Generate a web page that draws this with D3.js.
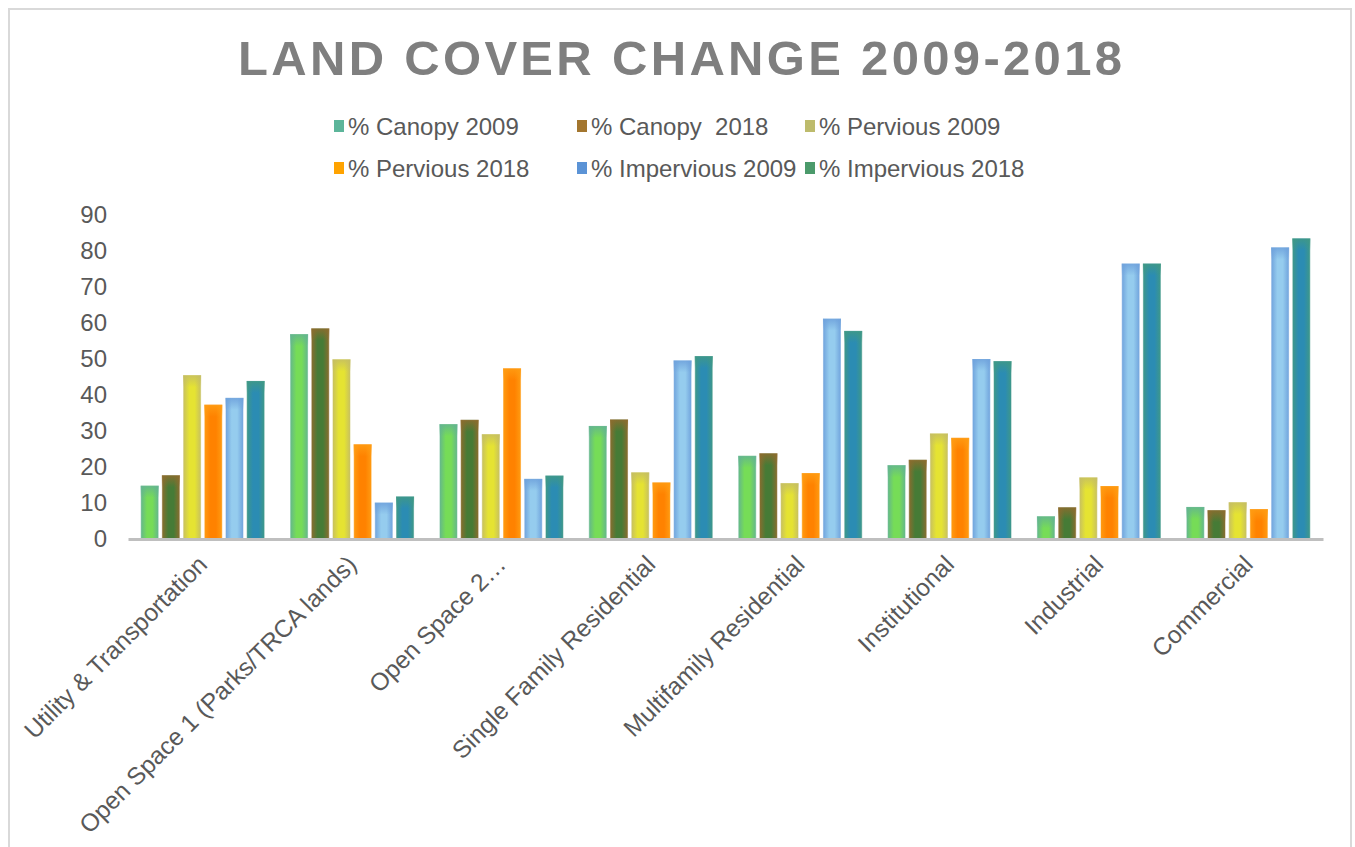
<!DOCTYPE html>
<html>

<head>
    <title>Land Cover Change</title>
    <script src="https://cdn.jsdelivr.net/npm/d3@7"></script>
    <style>
        body { margin: 0; background: #fff; }
        text { font-family: Arial, "Liberation Sans", sans-serif; }
    </style>
</head>

<body>
    <svg width="1355" height="847" id="mainsvg"></svg>
    <script>
        // data
        const categories = ['Utility & Transportation', 'Open Space 1 (Parks/TRCA lands)', 'Open Space 2…',
            'Single Family Residential', 'Multifamily Residential', 'Institutional', 'Industrial', 'Commercial'];
        const seriesNames = ['% Canopy 2009', '% Canopy  2018', '% Pervious 2009',
            '% Pervious 2018', '% Impervious 2009', '% Impervious 2018'];
        const canopy2009 = [14.8, 56.9, 31.9, 31.4, 23.1, 20.5, 6.3, 8.9];
        const canopy2018 = [17.7, 58.5, 33.1, 33.2, 23.8, 22.0, 8.8, 8.0];
        const pervious2009 = [45.5, 49.9, 29.1, 18.5, 15.5, 29.3, 17.1, 10.2];
        const pervious2018 = [37.3, 26.3, 47.4, 15.7, 18.3, 28.1, 14.7, 8.3];
        const impervious2009 = [39.2, 10.1, 16.7, 49.6, 61.2, 50.0, 76.5, 81.0];
        const impervious2018 = [43.9, 11.8, 17.6, 50.8, 57.8, 49.4, 76.5, 83.5];
        const yTicks = [0, 10, 20, 30, 40, 50, 60, 70, 80, 90];

        const values = [canopy2009, canopy2018, pervious2009, pervious2018, impervious2009, impervious2018];

        // styling
        const edgeColors = ['#63b58f', '#8c6c2e', '#c6bf62', '#ff9c12', '#6fa2dc', '#3f9886'];
        const centerColors = ['#76dc57', '#467b36', '#e5e332', '#ff8200', '#95ccee', '#2b8cb3'];
        const legendColors = ['#5cb59a', '#a3762f', '#bdbb6c', '#ffa300', '#5b93d6', '#4b9a6b'];

        const svg = d3.select('svg');
        const width = +svg.attr('width');
        const margin = { top: 215, right: 32, bottom: 308, left: 128 };
        const plotBottom = 539;

        // frame
        svg.append('rect')
            .attr('x', 9).attr('y', 9).attr('width', 1342).attr('height', 900)
            .attr('fill', '#fff').attr('stroke', '#d9d9d9').attr('stroke-width', 2);

        // gradients
        const defs = svg.append('defs');
        seriesNames.forEach((s, i) => {
            const g = defs.append('linearGradient').attr('id', 'grad' + i)
                .attr('x1', '0%').attr('x2', '100%').attr('y1', '0%').attr('y2', '0%');
            g.append('stop').attr('offset', '0%').attr('stop-color', edgeColors[i]);
            g.append('stop').attr('offset', '35%').attr('stop-color', centerColors[i]);
            g.append('stop').attr('offset', '65%').attr('stop-color', centerColors[i]);
            g.append('stop').attr('offset', '100%').attr('stop-color', edgeColors[i]);
            const v = defs.append('linearGradient').attr('id', 'top' + i)
                .attr('x1', '0%').attr('x2', '0%').attr('y1', '0%').attr('y2', '100%');
            v.append('stop').attr('offset', '0').attr('stop-color', edgeColors[i]).attr('stop-opacity', 0.9);
            v.append('stop').attr('offset', '1').attr('stop-color', edgeColors[i]).attr('stop-opacity', 0);
        });

        // title
        svg.append('text')
            .attr('x', 238).attr('y', 75)
            .attr('textLength', 884).attr('lengthAdjust', 'spacing')
            .attr('font-size', 49).attr('font-weight', 'bold').attr('fill', '#7f7f7f')
            .text('LAND COVER CHANGE 2009-2018');

        // scales
        const x0 = d3.scaleBand().domain(categories)
            .range([margin.left, width - margin.right]).paddingInner(0.17).paddingOuter(0.085);
        const x1 = d3.scaleBand().domain(d3.range(seriesNames.length))
            .range([0, x0.bandwidth()]).paddingInner(0.15);
        const y = d3.scaleLinear().domain([0, 90]).range([plotBottom, margin.top]);

        // y axis labels
        svg.append('g')
            .attr('transform', `translate(${margin.left - 21},0)`)
            .call(d3.axisLeft(y).tickValues(yTicks).tickSize(0).tickPadding(0))
            .call(g => g.select('.domain').remove())
            .selectAll('text')
            .attr('font-size', 24).attr('fill', '#595959')
            .attr('font-family', 'Arial, "Liberation Sans", sans-serif');

        // bars
        const groups = svg.append('g').selectAll('g').data(categories).join('g')
            .attr('transform', d => `translate(${x0(d)},0)`);
        groups.each(function (cat, ci) {
            const g = d3.select(this);
            const rows = seriesNames.map((s, si) => ({ si, v: values[si][ci] }));
            g.selectAll('rect.bar').data(rows).join('rect').attr('class', 'bar')
                .attr('x', d => x1(d.si)).attr('width', x1.bandwidth())
                .attr('y', d => y(d.v)).attr('height', d => y(0) - y(d.v))
                .attr('fill', d => `url(#grad${d.si})`)
                .attr('stroke', '#ffffff').attr('stroke-opacity', 0.5).attr('stroke-width', 1);
            g.selectAll('rect.top').data(rows).join('rect').attr('class', 'top')
                .attr('x', d => x1(d.si)).attr('width', x1.bandwidth())
                .attr('y', d => y(d.v)).attr('height', d => Math.min(12, y(0) - y(d.v)))
                .attr('fill', d => `url(#top${d.si})`);
        });

        // x axis line + labels
        const xAxis = svg.append('g')
            .attr('transform', `translate(0,${plotBottom})`)
            .call(d3.axisBottom(x0).tickSize(0).tickPadding(0));
        xAxis.select('.domain').attr('stroke', '#bfbfbf').attr('stroke-width', 3);
        xAxis.selectAll('text')
            .attr('font-size', 24.5).attr('fill', '#595959')
            .attr('font-family', 'Arial, "Liberation Sans", sans-serif')
            .attr('text-anchor', 'end')
            .attr('dy', null).attr('y', null)
            .attr('transform', 'translate(6,27) rotate(-45)');

        // legend, laid out in three columns over two rows
        const legendCols = [334, 577, 805];
        const legendRows = [126, 168];
        const legend = svg.append('g').selectAll('g').data(seriesNames).join('g')
            .attr('transform', (d, i) => `translate(${legendCols[i % 3]},${legendRows[Math.floor(i / 3)]})`);
        legend.append('rect')
            .attr('x', 0).attr('y', -6).attr('width', 10).attr('height', 12)
            .attr('fill', (d, i) => legendColors[i]);
        legend.append('text')
            .attr('x', 14).attr('y', 8.5)
            .attr('font-size', 24).attr('fill', '#595959')
            .style('white-space', 'pre')
            .attr('xml:space', 'preserve')
            .text(d => d);
    </script>
</body>

</html>
